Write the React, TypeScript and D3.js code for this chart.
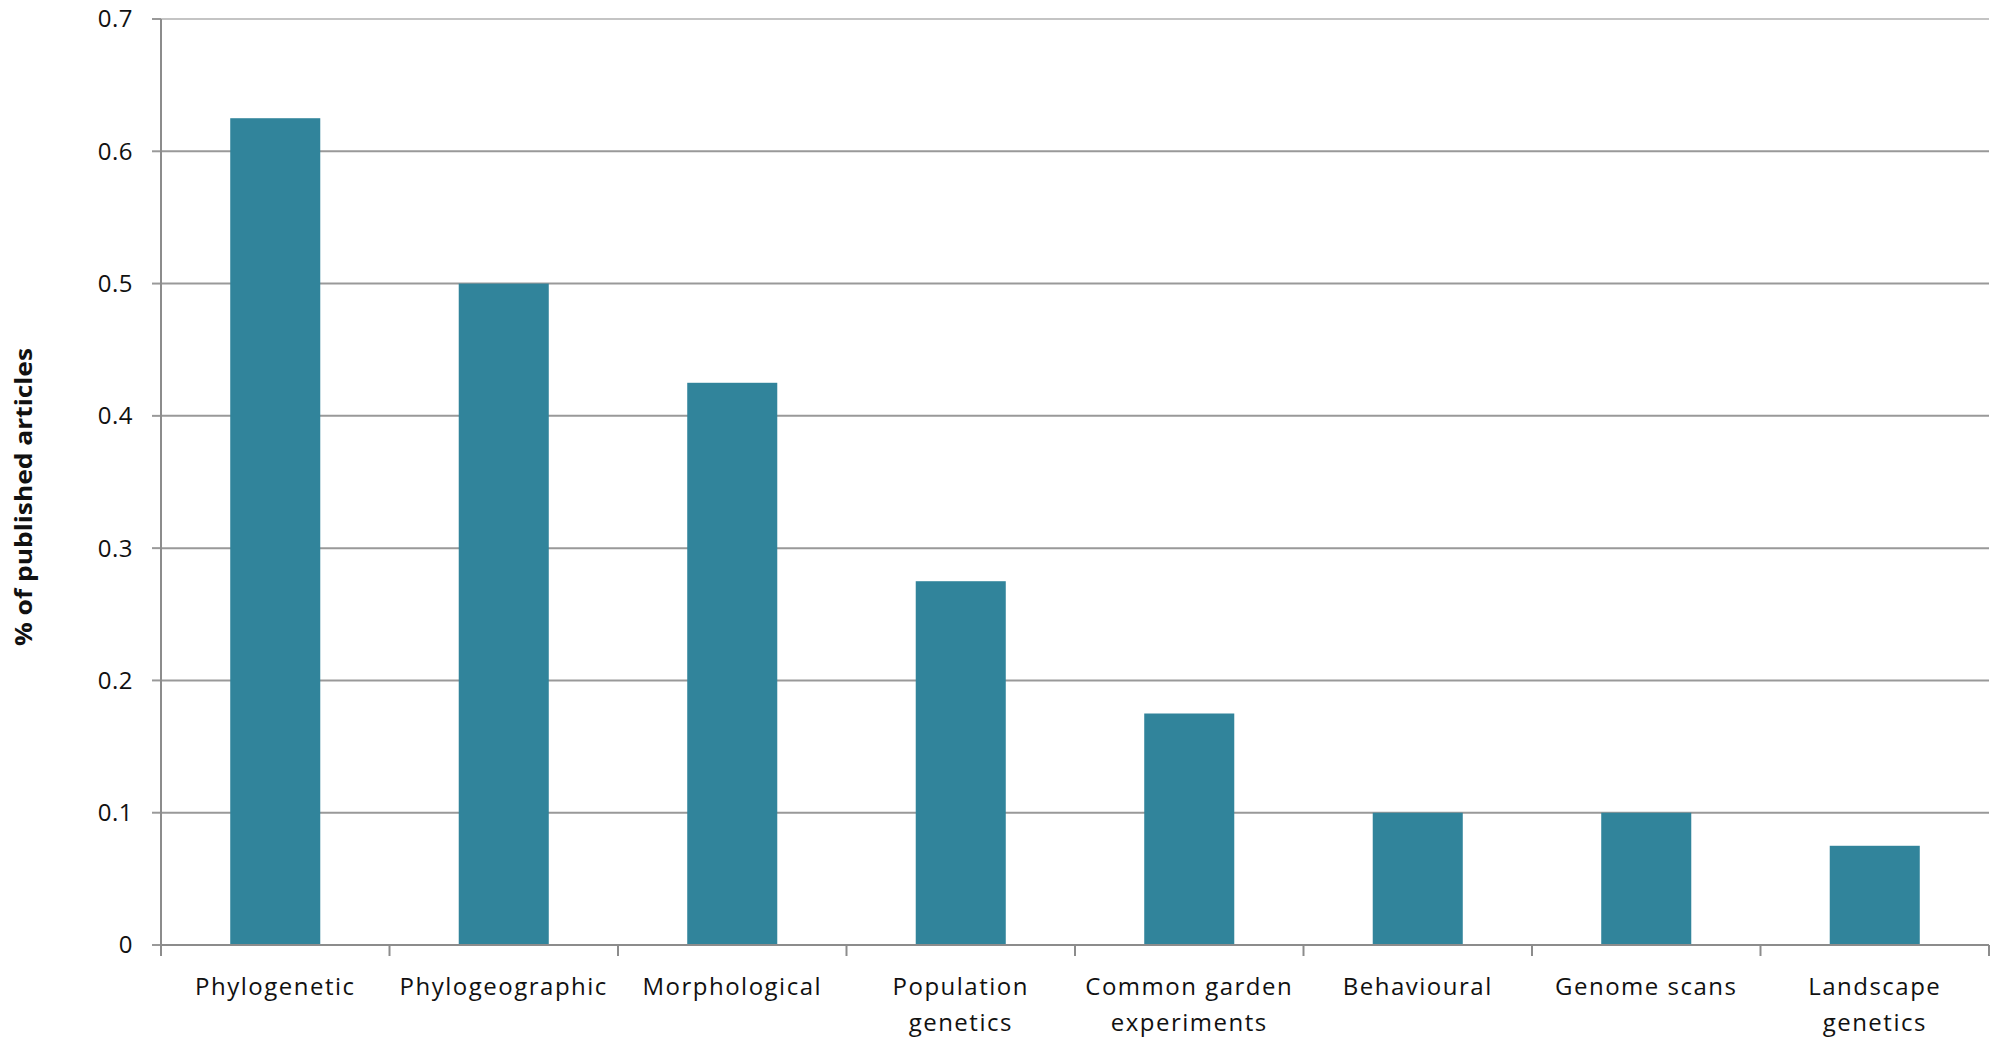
import React from "react";
import * as d3 from "d3";

const categories: string[][] = [
  ["Phylogenetic"],
  ["Phylogeographic"],
  ["Morphological"],
  ["Population", "genetics"],
  ["Common garden", "experiments"],
  ["Behavioural"],
  ["Genome scans"],
  ["Landscape", "genetics"],
];
const values: number[] = [0.625, 0.5, 0.425, 0.275, 0.175, 0.1, 0.1, 0.075];
const yTicks: number[] = [0, 0.1, 0.2, 0.3, 0.4, 0.5, 0.6, 0.7];
const yLabel = "% of published articles";

const W = 2000;
const H = 1045;
const left = 161;
const right = 1989;
const top = 19;
const bottom = 945;
const barColor = "#31849B";
const gridColor = "#999999";
const font = "'Open Sans', 'DejaVu Sans', sans-serif";

export default function App() {
  const keys = categories.map((c) => c.join(" "));
  const x = d3
    .scaleBand<string>()
    .domain(keys)
    .range([left, right])
    .paddingInner(0.606)
    .paddingOuter(0.303);
  const y = d3.scaleLinear().domain([0, 0.7]).range([bottom, top]);
  const step = (right - left) / keys.length;
  const boundaries = d3.range(keys.length + 1).map((i) => left + i * step);

  return (
    <svg
      width={W}
      height={H}
      style={{ position: "absolute", left: 0, top: 0, background: "#fff" }}
      fontFamily={font}
    >
      <rect x={0} y={0} width={W} height={H} fill="#fff" />
      {/* gridlines */}
      {yTicks.map((t) => (
        <g key={t}>
          <line
            x1={left}
            x2={right}
            y1={y(t)}
            y2={y(t)}
            stroke={t === 0.7 ? "#c4c4c4" : gridColor}
            strokeWidth={2}
          />
          <line x1={152} x2={left} y1={y(t)} y2={y(t)} stroke={gridColor} strokeWidth={2} />
          <text
            x={133}
            y={y(t)}
            dy="0.35em"
            textAnchor="end"
            fontSize={24}
            letterSpacing={0.5}
            fill="#111"
          >
            {t === 0 ? "0" : d3.format(".1f")(t)}
          </text>
        </g>
      ))}
      {/* bars */}
      {keys.map((k, i) => (
        <rect
          key={k}
          x={x(k)}
          width={x.bandwidth()}
          y={y(values[i])}
          height={y(0) - y(values[i])}
          fill={barColor}
        />
      ))}
      {/* axes */}
      <line x1={left} x2={left} y1={top} y2={bottom} stroke="#8c8c8c" strokeWidth={2} />
      <line x1={left} x2={right} y1={bottom} y2={bottom} stroke="#8c8c8c" strokeWidth={2} />
      {boundaries.map((b, i) => (
        <line key={i} x1={b} x2={b} y1={bottom} y2={bottom + 11} stroke="#8c8c8c" strokeWidth={2} />
      ))}
      {/* category labels */}
      {categories.map((lines, i) => (
        <text
          key={i}
          x={(x(keys[i]) as number) + x.bandwidth() / 2}
          y={995}
          textAnchor="middle"
          fontSize={24}
          letterSpacing={1.5}
          fill="#111"
        >
          {lines.map((l, j) => (
            <tspan key={j} x={(x(keys[i]) as number) + x.bandwidth() / 2} dy={j === 0 ? 0 : 36}>
              {l}
            </tspan>
          ))}
        </text>
      ))}
      {/* y label */}
      <text
        transform={`translate(32, 497) rotate(-90)`}
        textAnchor="middle"
        fontSize={23}
        fontWeight="bold"
        fill="#111"
        textLength={298}
        lengthAdjust="spacingAndGlyphs"
      >
        {yLabel}
      </text>
    </svg>
  );
}
